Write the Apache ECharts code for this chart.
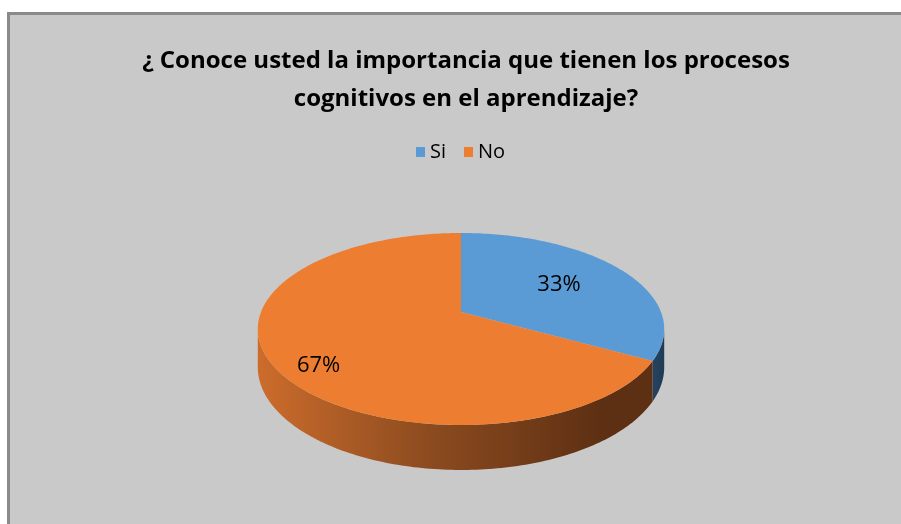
<!DOCTYPE html>
<html>
<head>
<meta charset="utf-8">
<style>
  html, body { margin: 0; padding: 0; background: #fff; overflow: hidden; }
  #main { width: 901px; height: 524px; }
</style>
<script src="https://cdn.jsdelivr.net/npm/echarts@6/dist/echarts.min.js"></script>
</head>
<body>
<div id="main"></div>
<script>
// datos de la gráfica
const categories = ['Si', 'No'];
const values = [33, 67];
const labels = ['33%', '67%'];
const colors = ['#5b9bd5', '#ed7d31'];

(function () {
    'use strict';

    const chart = echarts.init(document.getElementById('main'));

    // geometría del pastel 3D (perspectiva simple)
    const CX = 461, CY = 312;     // centro (vértice de los sectores)
    const A = 200, B = 93;        // semiejes de la elipse
    const K = 0.177;              // factor de perspectiva
    const H = 37;                 // grosor del disco
    const LABEL_R = [0.6, 0.77];
    const LABEL_DROP = 28;

    const total = values.reduce((s, v) => s + v, 0);

    function project(theta, f) {
        const u = f * Math.sin(theta);
        const v = f * Math.cos(theta);
        const w = 1 + K * v;
        return [CX + A * u / w, CY - B * v / w, w];
    }

    function arc(t0, t1, drop) {
        const pts = [];
        const n = Math.max(2, Math.ceil(Math.abs(t1 - t0) / (Math.PI / 180)));
        for (let i = 0; i <= n; i++) {
            const t = t0 + (t1 - t0) * i / n;
            const p = project(t, 1);
            pts.push([p[0], p[1] + (drop ? H / p[2] : 0)]);
        }
        return pts;
    }

    // rango visible de la pared lateral
    const FRONT_START = Math.acos(-K);
    const FRONT_END = 2 * Math.PI - FRONT_START;

    const sideFill = [
        { type: 'linear', x: 640, y: 0, x2: 665, y2: 0, global: true,
          colorStops: [{ offset: 0, color: '#2c4d6b' }, { offset: 1, color: '#1f3a55' }] },
        { type: 'linear', x: 258, y: 0, x2: 600, y2: 0, global: true,
          colorStops: [{ offset: 0, color: '#cc6c2c' }, { offset: 0.5, color: '#8c4b1f' }, { offset: 1, color: '#5e3013' }] }
    ];

    function sliceAngles(idx) {
        let start = 0;
        for (let i = 0; i < idx; i++) start += values[i] / total * 2 * Math.PI;
        return [start, start + values[idx] / total * 2 * Math.PI];
    }

    function makeRender(idx) {
        return function () {
            const [t0, t1] = sliceAngles(idx);
            const children = [];

            // pared lateral
            const a = Math.max(t0, FRONT_START);
            const b = Math.min(t1, FRONT_END);
            if (b > a) {
                const top = arc(a, b, false);
                const bottom = arc(b, a, true);
                children.push({
                    type: 'polygon',
                    shape: { points: top.concat(bottom) },
                    style: { fill: sideFill[idx], stroke: null }
                });
            }

            // cara superior
            const face = [[CX, CY]].concat(arc(t0, t1, false));
            children.push({
                type: 'polygon',
                shape: { points: face },
                style: { fill: colors[idx], stroke: null }
            });

            // etiqueta
            const mid = (t0 + t1) / 2;
            const lp = project(mid, LABEL_R[idx]);
            const drop = Math.max(0, -Math.cos(mid)) * LABEL_DROP;
            children.push({
                type: 'text',
                x: lp[0],
                y: lp[1] + drop,
                z2: 10,
                style: {
                    text: labels[idx],
                    fill: '#000',
                    font: '22px "Open Sans", sans-serif',
                    align: 'center',
                    verticalAlign: 'middle'
                }
            });

            return { type: 'group', children: children };
        };
    }

    const series = categories.map((name, idx) => ({
        type: 'custom',
        name: name,
        coordinateSystem: 'none',
        renderItem: makeRender(idx),
        data: [[values[idx]]],
        itemStyle: { color: colors[idx] },
        silent: true,
        animation: false
    }));

    const option = {
        backgroundColor: '#ffffff',
        animation: false,
        graphic: [{
            type: 'rect',
            shape: { x: 8.5, y: 13.5, width: 920, height: 540 },
            style: { fill: '#c9c9c9', stroke: '#8a8a8a', lineWidth: 3 },
            z: -10
        }],
        title: {
            text: '¿ Conoce usted la importancia que tienen los procesos\ncognitivos en el aprendizaje?',
            left: 461,
            top: 37,
            textAlign: 'center',
            textStyle: {
                fontFamily: '"Open Sans", sans-serif',
                fontWeight: 'bold',
                fontSize: 24,
                lineHeight: 38,
                color: '#000'
            }
        },
        legend: {
            data: categories,
            left: 411,
            top: 137,
            icon: 'rect',
            itemWidth: 9,
            itemHeight: 10,
            itemGap: 18,
            textStyle: { fontFamily: '"Open Sans", sans-serif', fontSize: 20, color: '#000' }
        },
        series: series
    };

    chart.setOption(option);
})();
</script>
</body>
</html>
